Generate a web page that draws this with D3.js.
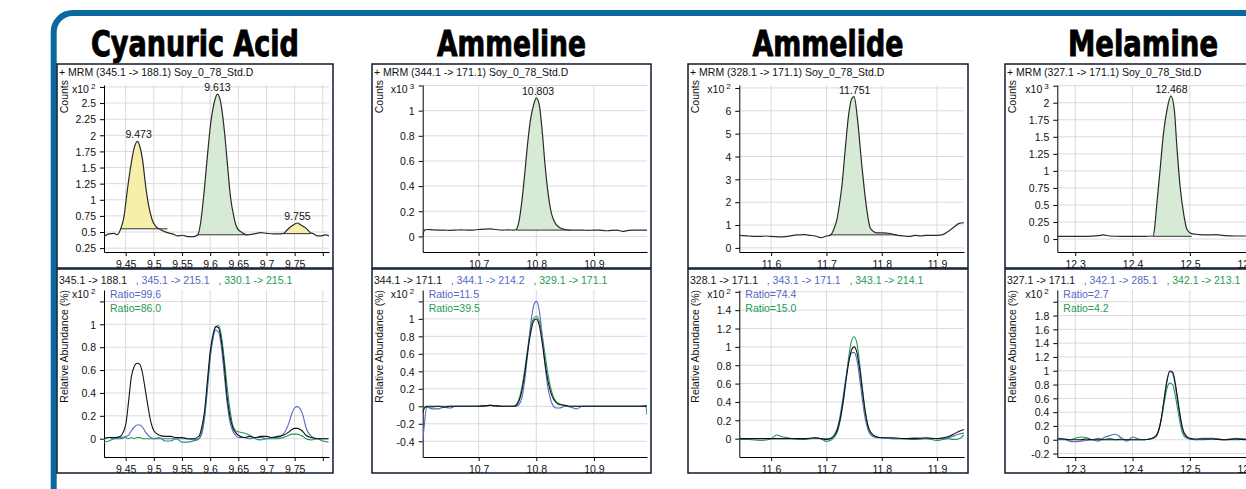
<!DOCTYPE html>
<html>
<head>
<meta charset="utf-8">
<script src="https://cdn.jsdelivr.net/npm/d3@7"></script>
<style>
body{margin:0;background:#fff;}
svg{display:block;font-family:"Liberation Sans",Arial,sans-serif;}
</style>
</head>
<body>
<svg id="chart" width="1246" height="489"></svg>
<script>
// ---- Cyanuric Acid ----
const cyaTime = [9.4115,9.42,9.429,9.435,9.441,9.447,9.453,9.459,9.465,9.471,9.475,9.48,9.4855,9.491,9.497,9.503,9.512,9.524,9.533,9.542,9.551,9.56,9.571,9.578,9.583,9.589,9.595,9.601,9.607,9.613,9.619,9.625,9.631,9.636,9.642,9.648,9.657,9.666,9.678,9.69,9.70,9.713,9.725,9.731,9.737,9.746,9.755,9.761,9.77,9.778,9.784,9.79,9.796,9.805,9.811];
const cyaCounts = [0.43,0.47,0.48,0.46,0.545,0.74,1.155,1.52,1.80,1.905,1.83,1.62,1.21,0.90,0.69,0.59,0.535,0.49,0.47,0.44,0.45,0.43,0.43,0.457,0.64,1.10,1.67,2.19,2.50,2.64,2.50,2.09,1.52,1.05,0.74,0.56,0.49,0.457,0.47,0.49,0.48,0.47,0.472,0.48,0.535,0.60,0.64,0.61,0.56,0.49,0.47,0.44,0.44,0.457,0.44];
const cyaFillFrom = [9.441, 9.578, 9.725];
const cyaFillTo = [9.524, 9.666, 9.778];
const cyaFillBase = [0.55, 0.457, 0.475];
const cyaFillKind = ["other", "target", "other"];
const cyaPeaks = [9.473, 9.613, 9.755];
const cyaRelTime = [9.41,9.42,9.43,9.44,9.45,9.455,9.46,9.465,9.47,9.475,9.48,9.485,9.49,9.495,9.50,9.51,9.52,9.53,9.54,9.55,9.56,9.57,9.58,9.585,9.59,9.595,9.60,9.605,9.61,9.615,9.62,9.625,9.63,9.635,9.64,9.645,9.65,9.66,9.67,9.68,9.69,9.70,9.71,9.72,9.73,9.74,9.745,9.75,9.755,9.76,9.765,9.77,9.78,9.79,9.80,9.81];
const cyaQuant = [0.0,0.01,0.01,0.02,0.12, 0.32,0.54,0.63,0.66,0.65,0.57,0.42,0.27,0.14,0.07, 0.03,0.02,0.02,0.01,0.01,0.0,0.0,0.02, 0.10,0.24,0.50,0.76,0.91,0.98,0.97,0.85,0.64,0.37,0.20,0.10,0.055,0.03, 0.01,0.02,0.01,0.02,0.02,0.01,0.02,0.03,0.06, 0.08,0.09,0.09,0.08,0.06,0.03, 0.01,0.0,0.0,0.0];
const cyaQual1 = [-0.01,0.01,0.0,0.01,0.02, 0.03,0.07,0.10,0.12,0.12,0.10,0.06,0.03,0.01,0.0, 0.0,0.0,0.0,0.0,0.0,0.0,-0.01,0.0, 0.06,0.20,0.46,0.72,0.88,0.95,0.93,0.80,0.56,0.32,0.15,0.07,0.03,0.01, 0.01,0.0,0.01,0.01,0.0,0.01,0.01,0.04,0.14, 0.22,0.27,0.28,0.26,0.20,0.10, 0.02,0.0,0.0,0.0];
const cyaQual2 = [-0.03,-0.02,0.0,0.0,0.01, 0.0,0.01,0.0,0.01,0.01,0.0,0.0,0.0,0.0,0.0, 0.01,-0.02,-0.02,0.0,-0.03,-0.03,-0.02,0.0, 0.04,0.18,0.42,0.70,0.88,0.98,0.99,0.90,0.70,0.46,0.26,0.12,0.07,0.06, 0.05,0.03,0.0,-0.01,0.0,0.0,0.0,0.01,0.03, 0.04,0.04,0.04,0.03,0.02,0.0, -0.01,0.0,-0.02,-0.03];
const cyaRatios = ["Ratio=99.6", "Ratio=86.0"];

// ---- Ammeline ----
const amlTime = [10.603,10.606,10.61,10.62,10.63,10.64,10.65,10.66,10.67,10.68,10.69,10.70,10.71,10.72,10.73,10.74,10.75,10.76,10.765,10.77,10.775,10.78,10.785,10.79,10.795,10.80,10.805,10.81,10.815,10.82,10.825,10.83,10.84,10.85,10.86,10.87,10.88,10.89,10.90,10.91,10.92,10.93,10.94,10.95,10.96,10.97,10.98,10.992];
const amlCounts = [0.0,0.05,0.055, 0.052,0.05,0.05,0.048,0.05,0.052,0.05,0.05,0.055,0.058,0.06,0.055,0.05,0.052,0.05, 0.055,0.12,0.28,0.50,0.74,0.93,1.04,1.10,1.05,0.85,0.58,0.36,0.21,0.13, 0.07,0.055,0.05,0.05,0.05,0.048,0.05,0.05,0.045,0.048,0.05,0.04,0.048,0.05,0.05, 0.05];
const amlFillFrom = [10.765];
const amlFillTo = [10.86];
const amlFillBase = [0.05];
const amlFillKind = ["target"];
const amlPeaks = [10.803];
const amlRelTime = [10.603,10.606,10.61,10.62,10.63,10.64,10.65,10.66,10.68,10.70,10.72,10.74,10.76,10.765,10.77,10.775,10.78,10.785,10.79,10.795,10.80,10.805,10.81,10.815,10.82,10.825,10.83,10.835,10.84,10.85,10.86,10.87,10.88,10.90,10.92,10.94,10.96,10.98,10.99,10.992];
const amlQuant = [-0.08,-0.02,0.0,0.0,0.0,-0.01,0.0,0.0, 0.0,0.0,0.01,0.0,0.0, 0.01,0.06,0.18,0.38,0.62,0.83,0.97,1.0,0.93,0.74,0.50,0.30,0.16,0.08,0.04,0.02, 0.01,0.0,0.0,0.0, 0.0,0.0,0.0,0.0,0.0, 0.0,0.0];
const amlQual1 = [-0.42,-0.2,-0.01,-0.03,-0.03,-0.01,-0.02,0.0, 0.0,0.0,0.01,0.0,0.0, 0.0,0.02,0.10,0.30,0.60,0.92,1.14,1.20,1.10,0.82,0.48,0.22,0.07,0.0,-0.02,-0.02, 0.0,-0.01,-0.03,0.0, 0.0,0.0,0.0,0.0,0.0, 0.01,0.0];
const amlQual2 = [-0.04,-0.02,-0.01,-0.01,0.0,0.0,0.0,0.0, 0.0,0.0,0.01,0.0,0.0, 0.02,0.08,0.22,0.42,0.66,0.88,1.0,1.03,0.98,0.82,0.60,0.38,0.21,0.10,0.05,0.03, 0.01,0.0,0.0,0.0, 0.0,0.0,0.0,0.0,0.0, 0.0,-0.1];
const amlRatios = ["Ratio=11.5", "Ratio=39.5"];

// ---- Ammelide ----
const adTime = [11.5425,11.55,11.56,11.57,11.58,11.59,11.60,11.61,11.62,11.63,11.64,11.65,11.66,11.67,11.68,11.69,11.70,11.7075,11.713,11.719,11.724,11.728,11.734,11.740,11.746,11.750,11.756,11.764,11.772,11.779,11.785,11.791,11.803,11.815,11.827,11.84,11.85,11.86,11.87,11.88,11.89,11.90,11.91,11.92,11.93,11.94,11.9486];
const adCounts = [0.55, 0.54,0.52,0.50,0.50,0.52,0.50,0.49,0.48,0.50,0.55,0.57,0.58,0.55,0.52,0.45,0.52, 0.56,0.8,1.25,2.0,2.72,4.34,5.81,6.54,6.62,5.66,3.6,1.84,0.88,0.72,0.66, 0.66,0.63,0.56, 0.52,0.50,0.55,0.52,0.55,0.55,0.55,0.58,0.72,0.90,1.07, 1.1];
const adFillFrom = [11.7075];
const adFillTo = [11.827];
const adFillBase = [0.57];
const adFillKind = ["target"];
const adPeaks = [11.751];
const adRelTime = [11.5425,11.56,11.58,11.60,11.61,11.62,11.64,11.66,11.68,11.69,11.70,11.71,11.715,11.72,11.725,11.73,11.735,11.74,11.745,11.75,11.755,11.76,11.765,11.77,11.775,11.78,11.79,11.80,11.82,11.84,11.86,11.88,11.90,11.91,11.92,11.93,11.94,11.9486];
const adQuant = [0.0,0.0,0.0,0.0,0.0,0.0,0.0,0.0,0.01,0.0,-0.01, 0.01,0.04,0.10,0.22,0.40,0.62,0.82,0.96,1.0,0.94,0.76,0.52,0.30,0.14,0.07, 0.02,0.01, 0.01,0.0,0.0,0.01,0.0, 0.01,0.02,0.05,0.08, 0.10];
const adQual1 = [0.0,0.0,0.0,0.0,0.0,0.0,0.0,0.0,0.0,0.0,0.0, 0.01,0.05,0.12,0.26,0.45,0.66,0.84,0.93,0.94,0.86,0.66,0.42,0.22,0.10,0.04, 0.01,0.01, 0.0,0.0,0.01,0.0,0.0, 0.0,0.01,0.03,0.05, 0.06];
const adQual2 = [-0.01,-0.01,-0.02,0.0,0.04,0.02,0.0,-0.01,0.01,0.0,-0.03, -0.01,0.02,0.08,0.20,0.38,0.62,0.88,1.06,1.11,1.04,0.82,0.55,0.30,0.14,0.06, 0.02,0.01, 0.0,0.0,-0.01,0.0,-0.02, -0.01,0.0,-0.01,0.0, 0.04];
const adRatios = ["Ratio=74.4", "Ratio=15.0"];

// ---- Melamine ----
const melTime = [12.2688,12.28,12.30,12.32,12.34,12.349,12.36,12.38,12.40,12.42,12.436,12.439,12.442,12.448,12.454,12.46,12.467,12.473,12.477,12.483,12.489,12.495,12.503,12.517,12.53,12.546,12.56,12.58,12.60,12.62,12.65];
const melCounts = [0.04,0.04,0.04,0.04,0.05,0.06,0.045,0.04,0.04,0.04,0.045,0.2,0.48,1.01,1.55,1.89,2.10,1.89,1.40,0.77,0.38,0.14,0.08,0.065,0.06,0.065,0.05,0.045,0.045,0.045,0.045];
const melFillFrom = [12.436];
const melFillTo = [12.503];
const melFillBase = [0.04];
const melFillKind = ["target"];
const melPeaks = [12.468];
const melRelTime = [12.2688,12.28,12.29,12.30,12.31,12.32,12.33,12.34,12.35,12.36,12.37,12.38,12.39,12.40,12.41,12.42,12.43,12.44,12.445,12.45,12.455,12.46,12.465,12.47,12.475,12.48,12.485,12.49,12.50,12.51,12.52,12.54,12.56,12.58,12.60,12.62,12.65];
const melQuant = [0.01,0.01,0.0,0.0,0.0,0.01,0.0,0.0,0.0,0.0,0.0,0.0,0.0,0.0,0.0,0.0,0.01,0.05, 0.12,0.30,0.58,0.85,0.99,0.98,0.80,0.52,0.26,0.10, 0.02,0.01,0.01, 0.01,0.0,0.01,0.0,0.0, 0.0];
const melQual1 = [0.02,0.01,-0.02,-0.03,-0.02,-0.01,0.0,-0.02,0.03,0.06,0.08,0.03,-0.02,0.04,0.01,0.0,0.01,0.04, 0.12,0.30,0.58,0.85,1.0,0.96,0.76,0.48,0.22,0.08, 0.01,0.0,0.0, 0.01,0.0,0.02,0.01,0.0, 0.0];
const melQual2 = [0.0,0.0,0.0,0.02,0.04,0.03,0.0,0.02,0.0,0.02,0.0,0.01,0.0,0.0,0.0,0.0,0.01,0.04, 0.12,0.28,0.52,0.74,0.82,0.80,0.62,0.38,0.16,0.05, 0.01,0.0,0.02, 0.02,0.0,0.0,0.01,0.0, 0.0];
const melRatios = ["Ratio=2.7", "Ratio=4.2"];

// ---- axes / labels ----
const compoundNames = ["Cyanuric Acid", "Ammeline", "Ammelide", "Melamine"];
const countHeaders = ["+ MRM (345.1 -> 188.1) Soy_0_78_Std.D", "+ MRM (344.1 -> 171.1) Soy_0_78_Std.D", "+ MRM (328.1 -> 171.1) Soy_0_78_Std.D", "+ MRM (327.1 -> 171.1) Soy_0_78_Std.D"];
const transitions = [
  ["345.1 -> 188.1", "345.1 -> 215.1", "330.1 -> 215.1"],
  ["344.1 -> 171.1", "344.1 -> 214.2", "329.1 -> 171.1"],
  ["328.1 -> 171.1", "343.1 -> 171.1", "343.1 -> 214.1"],
  ["327.1 -> 171.1", "342.1 -> 285.1", "342.1 -> 213.1"]
];
const countExp = [2, 3, 2, 3];
const xDomains = [[9.4115, 9.811], [10.603, 10.992], [11.5425, 11.9486], [12.2688, 12.652]];
const xTicks = [[9.45,9.5,9.55,9.6,9.65,9.7,9.75,9.8], [10.7,10.8,10.9], [11.6,11.7,11.8,11.9], [12.3,12.4,12.5,12.6]];
const countDomains = [[0.19, 2.78], [-0.124, 1.204], [-0.18, 7.13], [-0.19, 2.26]];
const countTicks = [d3.range(0.25, 2.76, 0.25), d3.range(0, 1.21, 0.2), d3.range(0, 7.1, 1), d3.range(0, 2.26, 0.25)];
const relDomains = [[-0.16, 1.30], [-0.58, 1.33], [-0.20, 1.62], [-0.25, 2.17]];
const relTicks = [d3.range(0, 1.21, 0.2), d3.range(-0.4, 1.21, 0.2), d3.range(0, 1.61, 0.2), d3.range(-0.2, 2.01, 0.2)];

// layout
const boxLeft = [57, 372, 688, 1005];
const boxWidth = [276, 279, 280, 276];
const plotLeft = [104, 422.7, 739.3, 1057.3];
const titleWidth = [208, 149, 151, 150];
const topBoxY = 64, lowBoxY = 269, boxH = 204;

const fillColor = {target: "#d6ead6", other: "#f7eeaa"};
const traceColor = ["#141414", "#5468c4", "#1f9a55"];

const svg = d3.select("#chart");
const fmt = d => String(+d.toFixed(2));
let clipN = 0;

// blue frame
svg.append("path")
  .attr("d", "M53.7,489 V32 A19,19 0 0 1 72.7,13 H1246")
  .attr("fill", "none").attr("stroke", "#0b679f").attr("stroke-width", 6);

const compounds = [
  {t: cyaTime, c: cyaCounts, ff: cyaFillFrom, ft: cyaFillTo, fb: cyaFillBase, fk: cyaFillKind, pk: cyaPeaks, rt: cyaRelTime, rel: [cyaQuant, cyaQual1, cyaQual2], ratios: cyaRatios},
  {t: amlTime, c: amlCounts, ff: amlFillFrom, ft: amlFillTo, fb: amlFillBase, fk: amlFillKind, pk: amlPeaks, rt: amlRelTime, rel: [amlQuant, amlQual1, amlQual2], ratios: amlRatios},
  {t: adTime, c: adCounts, ff: adFillFrom, ft: adFillTo, fb: adFillBase, fk: adFillKind, pk: adPeaks, rt: adRelTime, rel: [adQuant, adQual1, adQual2], ratios: adRatios},
  {t: melTime, c: melCounts, ff: melFillFrom, ft: melFillTo, fb: melFillBase, fk: melFillKind, pk: melPeaks, rt: melRelTime, rel: [melQuant, melQual1, melQual2], ratios: melRatios}
];

function frame(i, by, yDomain, yTicks, exp, yLabel, labelEnd){
  const bx = boxLeft[i], bw = boxWidth[i];
  const g = svg.append("g");
  g.append("rect").attr("x", bx).attr("y", by).attr("width", bw).attr("height", boxH)
    .attr("fill", "#fff").attr("stroke", "#0f1b2e").attr("stroke-width", 1.5);
  const x0 = plotLeft[i], x1 = bx + bw - 4, y0 = by + 21, y1 = by + 188;
  const x = d3.scaleLinear().domain(xDomains[i]).range([x0, x1]);
  const y = d3.scaleLinear().domain(yDomain).range([y1, y0]);

  g.append("g").selectAll("line").data(xTicks[i]).join("line")
    .attr("x1", d => x(d)).attr("x2", d => x(d)).attr("y1", y0).attr("y2", y1)
    .attr("stroke", "#dadada");
  g.append("g").selectAll("line").data(yTicks).join("line")
    .attr("x1", x0).attr("x2", x1).attr("y1", d => y(d)).attr("y2", d => y(d))
    .attr("stroke", "#dadada");

  const ax = g.append("g").attr("transform", `translate(0,${y1})`)
    .call(d3.axisBottom(x).tickValues(xTicks[i]).tickSize(4).tickSizeOuter(0)
      .tickFormat(d => x(d) > x1 - 8 ? "" : fmt(d)));
  const ay = g.append("g").attr("transform", `translate(${x0},0)`)
    .call(d3.axisLeft(y).tickValues(yTicks).tickSize(4).tickSizeOuter(0)
      .tickFormat(d => y(d) < y0 + 14 ? "" : fmt(d)));
  [ax, ay].forEach(a => {
    a.select(".domain").attr("stroke", "#000");
    a.selectAll(".tick line").attr("stroke", "#000");
    a.selectAll(".tick text").attr("font-family", "Liberation Sans, Arial, sans-serif")
      .attr("font-size", 10.5).attr("fill", "#111");
  });
  ax.selectAll(".tick text").attr("dy", "0.85em");
  ay.selectAll(".tick text").attr("dx", "-1").attr("dy", "0.36em");

  const lab = g.append("text").attr("x", x0 - 32).attr("y", y0 + 8)
    .attr("font-size", 10.5).attr("fill", "#111").text("x10");
  lab.append("tspan").attr("dx", 2).attr("dy", -4).attr("font-size", 8).text(exp);

  g.append("text").attr("transform", `translate(${bx + 10.5},${labelEnd}) rotate(-90)`)
    .attr("text-anchor", "end").attr("font-size", 10.5).attr("fill", "#111").text(yLabel);

  const id = "clip" + (clipN++);
  g.append("clipPath").attr("id", id).append("rect")
    .attr("x", x0).attr("y", y0 - 2).attr("width", x1 - x0).attr("height", y1 - y0 + 2);
  const plot = g.append("g").attr("clip-path", `url(#${id})`);
  return {g, plot, x, y, bx, x0};
}

compounds.forEach((cp, i) => {
  // ---- counts chromatogram ----
  const top = frame(i, topBoxY, countDomains[i], countTicks[i], countExp[i], "Counts", topBoxY + 16);
  top.g.append("text").attr("x", top.bx + 2).attr("y", topBoxY + 12)
    .attr("font-size", 10.5).attr("fill", "#111").text(countHeaders[i]);

  const pts = cp.t.map((t, k) => [t, cp.c[k]]);
  cp.ff.forEach((from, k) => {
    const seg = pts.filter(p => p[0] >= from - 1e-9 && p[0] <= cp.ft[k] + 1e-9);
    const base = cp.fb[k];
    top.plot.append("path").datum(seg)
      .attr("d", d3.area().x(p => top.x(p[0])).y0(top.y(base)).y1(p => top.y(p[1])).curve(d3.curveMonotoneX))
      .attr("fill", fillColor[cp.fk[k]]).attr("stroke", "none");
    top.plot.append("line")
      .attr("x1", top.x(from)).attr("x2", top.x(cp.ft[k]))
      .attr("y1", top.y(base)).attr("y2", top.y(base))
      .attr("stroke", "#333").attr("stroke-width", 1);
  });
  top.plot.append("path").datum(pts)
    .attr("d", d3.line().x(p => top.x(p[0])).y(p => top.y(p[1])).curve(d3.curveMonotoneX))
    .attr("fill", "none").attr("stroke", "#2a2a2a").attr("stroke-width", 1.2);

  cp.pk.forEach(pt => {
    const apex = d3.max(pts.filter(p => Math.abs(p[0] - pt) < 0.012), p => p[1]);
    top.g.append("text").attr("x", top.x(pt)).attr("y", top.y(apex) - 3)
      .attr("text-anchor", "middle").attr("font-size", 10.5).attr("fill", "#111").text(pt.toFixed(3));
  });

  // ---- relative abundance overlay ----
  const low = frame(i, lowBoxY, relDomains[i], relTicks[i], 2, "Relative Abundance (%)", lowBoxY + 21);
  const hdr = low.g.append("text").attr("x", low.bx + 2).attr("y", lowBoxY + 15)
    .attr("font-size", 10.5).style("white-space", "pre");
  transitions[i].forEach((tr, k) => {
    hdr.append("tspan").attr("fill", traceColor[k]).text((k ? "   , " : "") + tr);
  });
  cp.ratios.forEach((r, k) => {
    low.g.append("text").attr("x", low.x0 + 6).attr("y", lowBoxY + 29 + k * 13.5)
      .attr("font-size", 10.5).attr("fill", traceColor[k + 1]).text(r);
  });
  [2, 1, 0].forEach(k => {
    const series = cp.rel[k];
    low.plot.append("path").datum(cp.rt.map((t, j) => [t, series[j]]))
      .attr("d", d3.line().x(p => low.x(p[0])).y(p => low.y(p[1])).curve(d3.curveMonotoneX))
      .attr("fill", "none").attr("stroke", traceColor[k]).attr("stroke-width", 1.1);
  });

  // compound title
  svg.append("text").attr("x", boxLeft[i] + boxWidth[i] / 2).attr("y", 56)
    .attr("text-anchor", "middle")
    .attr("font-family", "Liberation Sans Narrow, DejaVu Sans Condensed, Arial Narrow, sans-serif")
    .attr("font-weight", "bold").attr("font-size", 36)
    .attr("textLength", titleWidth[i]).attr("lengthAdjust", "spacingAndGlyphs")
    .attr("fill", "#000").attr("stroke", "#000").attr("stroke-width", 0.9)
    .text(compoundNames[i]);
});
</script>
</body>
</html>
